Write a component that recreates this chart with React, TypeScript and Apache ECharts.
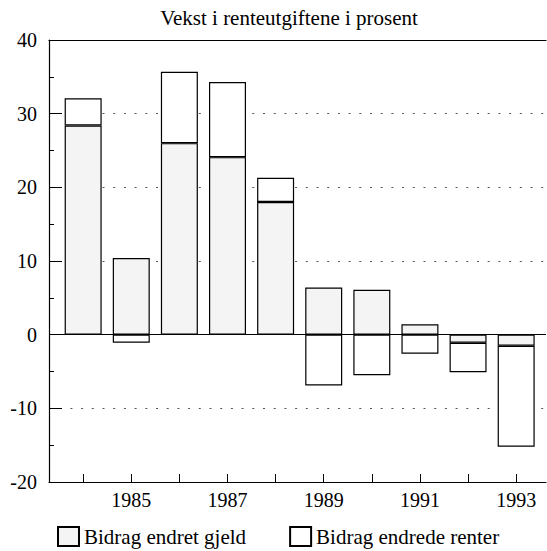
import React, { useEffect, useRef } from "react";
import * as echarts from "echarts";

const years = [1984, 1985, 1986, 1987, 1988, 1989, 1990, 1991, 1992, 1993];
const gjeld = [28.4, 10.4, 26.0, 24.1, 18.0, 6.4, 6.1, 1.4, -1.1, -1.5];
const renter = [3.7, -1.1, 9.7, 10.2, 3.3, -6.9, -5.5, -2.6, -4.0, -13.7];
const labelYears = [1985, 1987, 1989, 1991, 1993];
const seriesNames = ["Bidrag endret gjeld", "Bidrag endrede renter"];
const title = "Vekst i renteutgiftene i prosent";

const FONT = "'Liberation Serif', 'DejaVu Serif', serif";

export default function App() {
  const ref = useRef<HTMLDivElement>(null);
  useEffect(() => {
    if (!ref.current) return;
    const chart = echarts.init(ref.current, null, { renderer: "svg" });
    const xMin = 1983.29;
    const xMax = 1993.62;
    chart.setOption({
      animation: false,
      backgroundColor: "#fff",
      textStyle: { fontFamily: FONT, color: "#000" },
      title: {
        text: title,
        left: 284,
        textAlign: "center",
        top: 2,
        textStyle: { fontFamily: FONT, fontSize: 21, fontWeight: "normal", color: "#000" },
      },
      legend: {
        left: 57,
        top: 526,
        icon: "rect",
        itemWidth: 21,
        itemHeight: 19,
        itemGap: 43,
        padding: 0,
        textStyle: { fontFamily: FONT, fontSize: 21, lineHeight: 21, color: "#000" },
        data: seriesNames,
      },
      grid: { left: 49, right: 1, top: 40, bottom: 69 },
      xAxis: [
        {
          type: "value",
          min: xMin,
          max: xMax,
          position: "bottom",
          axisLine: { show: true, onZero: false, lineStyle: { color: "#000", width: 1.2 } },
          axisTick: { show: true, inside: true, length: 8, customValues: years, lineStyle: { color: "#000", width: 1 } },
          axisLabel: {
            show: true,
            customValues: labelYears,
            formatter: (v: number) => String(v),
            fontFamily: FONT,
            fontSize: 20,
            color: "#000",
            margin: 8,
          },
          splitLine: { show: false },
        },
        {
          type: "value",
          min: xMin,
          max: xMax,
          position: "top",
          axisLine: { show: true, onZero: false, lineStyle: { color: "#000", width: 1.2 } },
          axisTick: { show: false },
          axisLabel: { show: false },
          splitLine: { show: false },
        },
      ],
      yAxis: {
        type: "value",
        min: -20,
        max: 40,
        interval: 10,
        axisLine: { show: true, onZero: false, lineStyle: { color: "#000", width: 1.2 } },
        axisTick: { show: true, inside: true, length: 13, lineStyle: { color: "#000", width: 1 } },
        minorTick: { show: true, splitNumber: 2, length: 5, lineStyle: { color: "#000", width: 1 } },
        axisLabel: { fontFamily: FONT, fontSize: 20, color: "#000", margin: 12 },
        splitLine: { show: true, lineStyle: { color: "#555", type: [2, 8.7], width: 1.2 } },
      },
      series: [
        {
          name: seriesNames[0],
          type: "bar",
          stack: "total",
          xAxisIndex: 0,
          barWidth: 37,
          encode: { x: 1, y: 0 },
          itemStyle: { color: "#f4f4f4", borderColor: "#000", borderWidth: 1.2 },
          data: years.map((y, i) => [gjeld[i], y]),
          markLine: {
            silent: true,
            symbol: "none",
            label: { show: false },
            lineStyle: { color: "#000", type: "solid", width: 1.2 },
            data: [{ yAxis: 0 }],
          },
        },
        {
          name: seriesNames[1],
          type: "bar",
          stack: "total",
          xAxisIndex: 0,
          barWidth: 37,
          encode: { x: 1, y: 0 },
          itemStyle: { color: "#ffffff", borderColor: "#000", borderWidth: 1.2 },
          data: years.map((y, i) => [renter[i], y]),
        },
      ],
    });
    return () => chart.dispose();
  }, []);
  return <div ref={ref} style={{ width: 547, height: 551, position: "absolute", left: 0, top: 0 }} />;
}
